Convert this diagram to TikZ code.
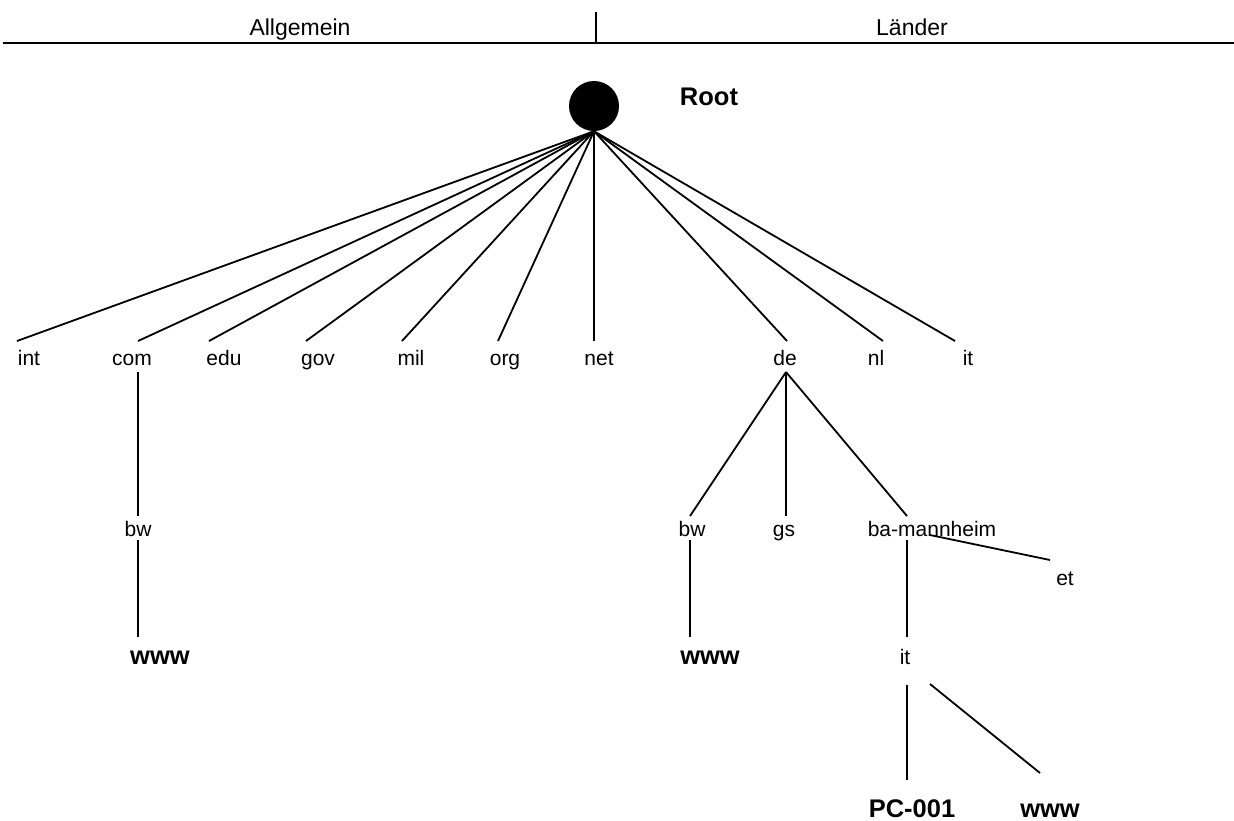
\documentclass[tikz,border=0pt]{standalone}
\usepackage{fontspec}
\setmainfont{Liberation Sans}
\begin{document}
\begin{tikzpicture}[x=1pt,y=-1pt,
  lbl/.style={inner sep=0pt, anchor=base, font=\fontsize{21}{21}\selectfont},
  boldlbl/.style={inner sep=0pt, anchor=base, font=\fontsize{25.5}{25.5}\selectfont\bfseries},
  head/.style={inner sep=0pt, anchor=base, font=\fontsize{23}{23}\selectfont},
  edge/.style={line width=1.8pt}]
\useasboundingbox (0,0) rectangle (1234,820);

% header with the two domain groups
\coordinate (hl) at (3,43);
\coordinate (hr) at (1234,43);
\coordinate (dtop) at (596,12);
\coordinate (dbot) at (596,43);
\draw[line width=2.6pt] (hl) -- (hr);
\draw[line width=1.2pt] (dtop) -- (dbot);
\node[head] (allg) at (300,35) {Allgemein};
\node[head] (laender) at (912,35) {Länder};

% root of the name space
\node[circle, fill=black, minimum size=50pt, inner sep=0pt] (root) at (594,106) {};
\node[boldlbl] (roottxt) at (709,105) {Root};

% top-level domains
\foreach \n/\lx/\tx in {int/29/17, com/132/138, edu/224/209, gov/318/306, mil/411/402,
                        org/505/498, net/599/594, de/785/787, nl/876/883, itc/968/955} {
  \coordinate (t-\n) at (\tx,341);
  \draw[edge] (root.south) -- (t-\n);
}
\node[lbl] (int) at (29,365) {int};
\node[lbl] (com) at (132,365) {com};
\node[lbl] (edu) at (224,365) {edu};
\node[lbl] (gov) at (318,365) {gov};
\node[lbl] (mil) at (411,365) {mil};
\node[lbl] (org) at (505,365) {org};
\node[lbl] (net) at (599,365) {net};
\node[lbl] (de) at (785,365) {de};
\node[lbl] (nl) at (876,365) {nl};
\node[lbl] (itc) at (968,365) {it};

% second level
\node[lbl] (combw) at (138,536) {bw};
\node[lbl] (debw) at (692,536) {bw};
\node[lbl] (gs) at (784,536) {gs};
\node[lbl] (bam) at (932,536) {ba-mannheim};
\node[lbl] (et) at (1065,585) {et};

\coordinate (com-b) at (138,372);
\coordinate (combw-t) at (138,516);
\draw[edge] (com-b) -- (combw-t);

\coordinate (de-b) at (786,372);
\coordinate (debw-t) at (690,516);
\coordinate (gs-t) at (786,516);
\coordinate (bam-t) at (907,516);
\draw[edge] (de-b) -- (debw-t);
\draw[edge] (de-b) -- (gs-t);
\draw[edge] (de-b) -- (bam-t);

\coordinate (bam-r) at (930,535);
\coordinate (et-t) at (1050,560);
\draw[edge] (bam-r) -- (et-t);

% third level
\node[boldlbl] (wwwa) at (160,664) {www};
\node[boldlbl] (wwwb) at (710,664) {www};
\node[lbl] (itd) at (905,664) {it};

\coordinate (combw-b) at (138,540);
\coordinate (wwwa-t) at (138,637);
\draw[edge] (combw-b) -- (wwwa-t);
\coordinate (debw-b) at (690,540);
\coordinate (wwwb-t) at (690,637);
\draw[edge] (debw-b) -- (wwwb-t);
\coordinate (bam-b) at (907,540);
\coordinate (itd-t) at (907,637);
\draw[edge] (bam-b) -- (itd-t);

% hosts below it.ba-mannheim.de
\node[boldlbl] (pc) at (912,817) {PC-001};
\node[boldlbl] (wwwc) at (1050,817) {www};
\coordinate (itd-b) at (907,685);
\coordinate (pc-t) at (907,780);
\draw[edge] (itd-b) -- (pc-t);
\coordinate (itd-r) at (930,684);
\coordinate (wwwc-t) at (1040,773);
\draw[edge] (itd-r) -- (wwwc-t);
\end{tikzpicture}
\end{document}
